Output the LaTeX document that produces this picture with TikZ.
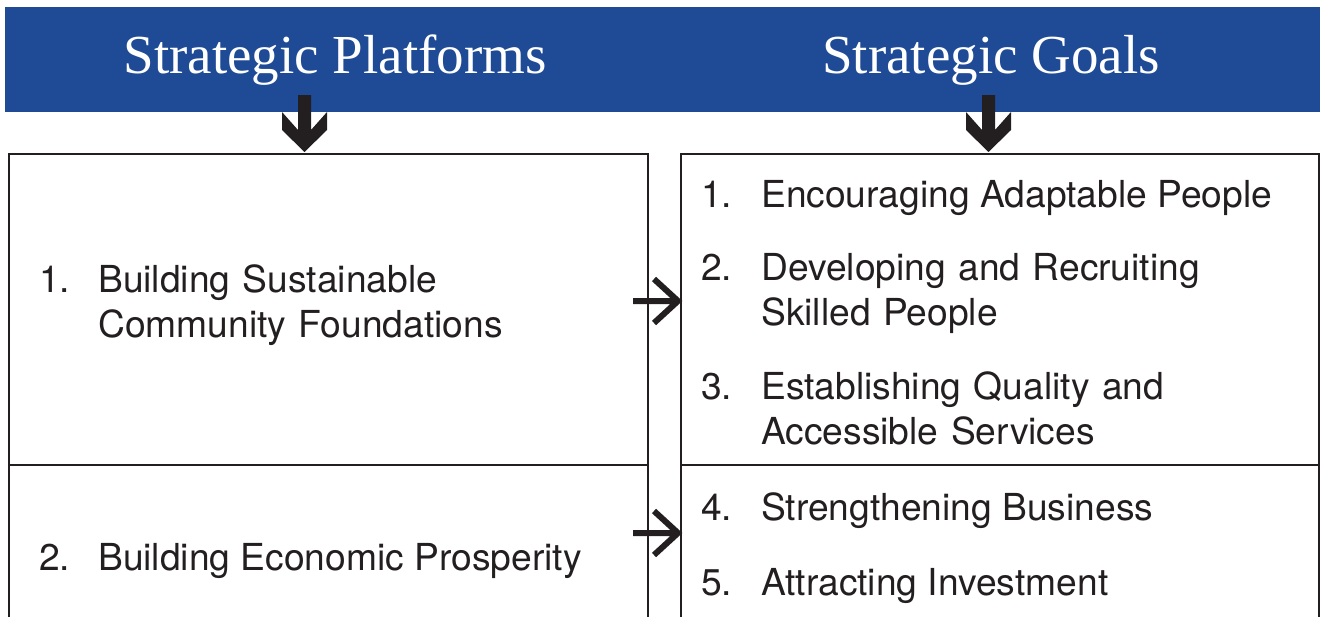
\documentclass[tikz,border=0pt]{standalone}
\usepackage{fontspec}
\setmainfont{TeX Gyre Heros}
\newfontfamily\headfont{Liberation Serif}
\definecolor{headblue}{RGB}{31,74,149}
\definecolor{inkgray}{RGB}{35,31,32}
\tikzset{
  box/.style={draw=inkgray, line width=2pt, inner sep=0pt, anchor=north west},
  item/.style={anchor=base west, inner sep=0pt, text=inkgray, font=\fontsize{37.2pt}{45pt}\selectfont},
  head/.style={anchor=base, inner sep=0pt, text=white, font=\headfont\fontsize{55pt}{60pt}\selectfont},
  rarrow/.style={draw=inkgray, line width=6pt, miter limit=10},
  blockarrow/.pic={\fill[inkgray] (-6.5,-57) -- (6.5,-57) -- (6.5,-22) -- (22.5,-40) -- (22.5,-22) -- (0,0) -- (-22.5,-22) -- (-22.5,-40) -- (-6.5,-22) -- cycle;}
}
\begin{document}
\begin{tikzpicture}[x=1pt,y=-1pt]
        \useasboundingbox (0,0) rectangle (1320,616);
        % header band
        \node[fill=headblue, inner sep=0pt, minimum width=1315pt, minimum height=105pt, anchor=north west] at (5,7) (band){};
        \node[head] at (335,73) (hpf){Strategic Platforms};
        \node[head] at (991,73) (hgl){Strategic Goals};

        % boxes
        \node[box, minimum width=639pt, minimum height=311pt] at (8,153) (pf1){};
        \node[box, minimum width=639pt, minimum height=170pt] at (8,464) (pf2){};
        \node[box, minimum width=638pt, minimum height=311pt] at (680,153) (gl1){};
        \node[box, minimum width=638pt, minimum height=170pt] at (680,464) (gl2){};

        % platforms
        \node[item] at (39,292) (n1){1.};
        \node[item, text width=540pt] at (98,292) (p1){Building Sustainable\\Community Foundations};
        \node[item] at (39,570) (n2){2.};
        \node[item] at (98,570) (p2){Building Economic Prosperity};

        % goals
        \node[item] at (701,207) (m1){1.};
        \node[item] at (761,207) (g1){Encouraging Adaptable People};
        \node[item] at (701,280) (m2){2.};
        \node[item, text width=540pt] at (761,280) (g2){Developing and Recruiting\\Skilled People};
        \node[item] at (701,399) (m3){3.};
        \node[item, text width=540pt] at (761,399) (g3){Establishing Quality and\\Accessible Services};
        \node[item] at (701,520) (m4){4.};
        \node[item] at (761,520) (g4){Strengthening Business};
        \node[item] at (701,595) (m5){5.};
        \node[item] at (761,595) (g5){Attracting Investment};

        % arrows
        \pic at (304.5,152) {blockarrow}; %band-pf1
        \pic at (988.5,152) {blockarrow}; %band-gl1
        \coordinate (a1s) at (633,301);
        \coordinate (a1e) at (678,301);
        \coordinate (a2s) at (633,533);
        \coordinate (a2e) at (678,533);
        \draw[rarrow] (a1s) -- (a1e) ++(-24,-22) -- (a1e) -- ++(-24,22); %pf1-gl1
        \draw[rarrow] (a2s) -- (a2e) ++(-24,-22) -- (a2e) -- ++(-24,22); %pf2-gl2
\end{tikzpicture}
\end{document}
